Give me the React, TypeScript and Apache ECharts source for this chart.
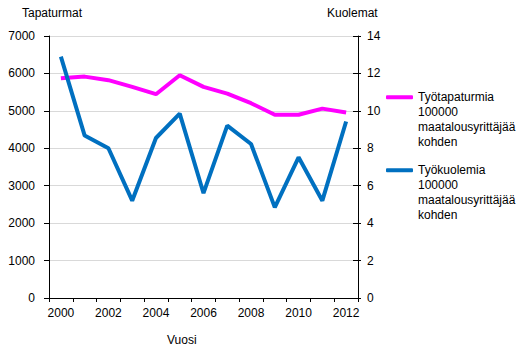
import React, { useEffect, useRef } from "react";
import * as echarts from "echarts";

const years = ["2000", "2001", "2002", "2003", "2004", "2005", "2006", "2007", "2008", "2009", "2010", "2011", "2012"];
const accidents = [5870, 5915, 5820, 5640, 5445, 5950, 5640, 5460, 5205, 4895, 4895, 5060, 4955];
const deaths = [12.9, 8.68, 8.0, 5.2, 8.55, 9.85, 5.6, 9.21, 8.23, 4.84, 7.52, 5.2, 9.43];
const leftTicks = { min: 0, max: 7000, interval: 1000 };
const rightTicks = { min: 0, max: 14, interval: 2 };
const seriesNames = [
  "Työtapaturmia\n100000\nmaatalousyrittäjää\nkohden",
  "Työkuolemia\n100000\nmaatalousyrittäjää\nkohden",
];
const leftTitle = "Tapaturmat";
const rightTitle = "Kuolemat";
const xTitle = "Vuosi";

const FONT = "Arial, 'Liberation Sans', sans-serif";
const TXT = "#000000";

export default function App() {
  const ref = useRef<HTMLDivElement>(null);
  useEffect(() => {
    if (!ref.current) return;
    const chart = echarts.init(ref.current, null, { renderer: "svg" });
    const axisLine = { show: true, lineStyle: { color: "#000", width: 1 } };
    chart.setOption({
      animation: false,
      textStyle: { fontFamily: FONT, color: TXT },
      grid: { left: 49, right: 172, top: 36, bottom: 61, containLabel: false },
      graphic: [
        { type: "text", left: 22, top: 7, style: { text: leftTitle, font: `12px ${FONT}`, fill: TXT } },
        { type: "text", left: 327, top: 7, style: { text: rightTitle, font: `12px ${FONT}`, fill: TXT } },
        { type: "text", left: 167, top: 334, style: { text: xTitle, font: `12px ${FONT}`, fill: TXT } },
      ],
      legend: {
        orient: "vertical",
        left: 386,
        top: 44.8,
        padding: 0,
        itemGap: -32,
        itemWidth: 27,
        itemHeight: 4,
        icon: "roundRect",
        formatter: (name: string) => "\n\n\n" + name,
        textStyle: { fontSize: 12, fontFamily: FONT, color: TXT, lineHeight: 15 },
        data: seriesNames,
      },
      xAxis: {
        type: "category",
        data: years,
        boundaryGap: true,
        axisLine,
        axisTick: { show: true, interval: 0, length: 4, lineStyle: { color: "#000" } },
        axisLabel: { interval: 1, margin: 9, fontSize: 12, color: TXT, fontFamily: FONT },
        splitLine: { show: false },
      },
      yAxis: [
        {
          type: "value",
          position: "left",
          ...leftTicks,
          axisLine,
          axisTick: { show: true, length: 5, lineStyle: { color: "#000" } },
          axisLabel: { margin: 14, fontSize: 12, color: TXT, fontFamily: FONT, formatter: (v: number) => String(v) },
          splitLine: { show: true, lineStyle: { color: "#d9d9d9", width: 1 } },
        },
        {
          type: "value",
          position: "right",
          ...rightTicks,
          axisLine,
          axisTick: { show: true, length: 3, lineStyle: { color: "#000" } },
          axisLabel: { margin: 9, fontSize: 12, color: TXT, fontFamily: FONT, formatter: (v: number) => String(v) },
          splitLine: { show: false },
        },
        {
          type: "value",
          position: "right",
          ...rightTicks,
          axisLine: { show: false },
          axisTick: { show: true, inside: true, length: 5, lineStyle: { color: "#000" } },
          axisLabel: { show: false },
          splitLine: { show: false },
        },
      ],
      series: [
        {
          name: seriesNames[0],
          type: "line",
          yAxisIndex: 0,
          data: accidents,
          showSymbol: false,
          symbol: "none",
          color: "#FF00FF",
          lineStyle: { color: "#FF00FF", width: 4 },
        },
        {
          name: seriesNames[1],
          type: "line",
          yAxisIndex: 1,
          data: deaths,
          showSymbol: false,
          symbol: "none",
          color: "#0070C0",
          lineStyle: { color: "#0070C0", width: 4 },
        },
      ],
    });
    return () => chart.dispose();
  }, []);
  return <div ref={ref} style={{ width: 530, height: 359, position: "absolute", left: 0, top: 0 }} />;
}
